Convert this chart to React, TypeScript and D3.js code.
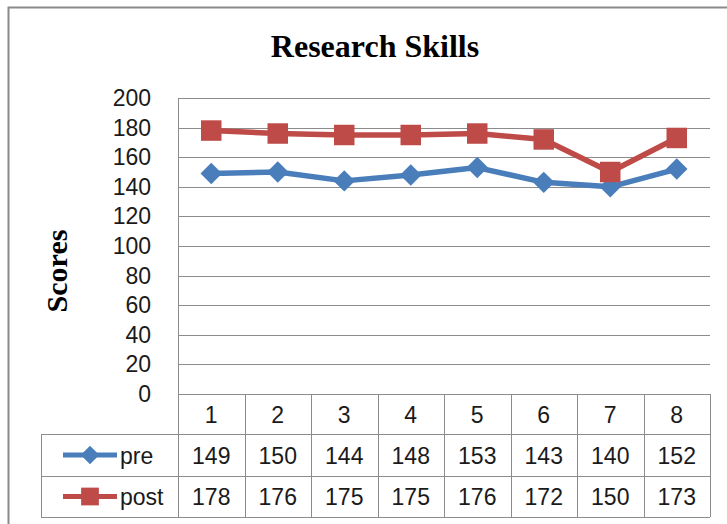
import { useEffect, useRef } from "react";
import * as d3 from "d3";

const categories = ["1", "2", "3", "4", "5", "6", "7", "8"];
const preScores = [149, 150, 144, 148, 153, 143, 140, 152];
const postScores = [178, 176, 175, 175, 176, 172, 150, 173];
const yTicks = [0, 20, 40, 60, 80, 100, 120, 140, 160, 180, 200];

const W = 727;
const H = 524;

// rotated square, like the Excel diamond marker
const diamond = {
  draw(ctx: any, size: number) {
    const r = Math.sqrt(size / 2);
    ctx.moveTo(0, -r);
    ctx.lineTo(r, 0);
    ctx.lineTo(0, r);
    ctx.lineTo(-r, 0);
    ctx.closePath();
  },
};

const App = () => {
  const ref = useRef<SVGSVGElement>(null);

  useEffect(() => {
    const svg = d3.select(ref.current);
    svg.selectAll("*").remove();

    const plot = { left: 178, right: 710, top: 98, bottom: 394 };
    const rows = [394, 434, 476, 517];
    const keyLeft = 41;
    const numFont = "Liberation Sans, Arial, sans-serif";
    const fs = 23;
    const gray = "#8c8c8c";

    // chart frame
    svg
      .append("rect")
      .attr("x", 8.5)
      .attr("y", 7.5)
      .attr("width", W + 20)
      .attr("height", H + 20)
      .attr("fill", "#fff")
      .attr("stroke", "#8a8a8a")
      .attr("stroke-width", 2);

    const x = d3
      .scaleBand()
      .domain(categories)
      .range([plot.left, plot.right]);
    const y = d3.scaleLinear().domain([0, 200]).range([plot.bottom, plot.top]);

    // gridlines
    svg
      .append("g")
      .selectAll("line")
      .data(yTicks)
      .enter()
      .append("line")
      .attr("x1", plot.left)
      .attr("x2", plot.right)
      .attr("y1", (d) => Math.round(y(d)) + 0.5)
      .attr("y2", (d) => Math.round(y(d)) + 0.5)
      .attr("stroke", gray)
      .attr("stroke-width", 1);

    // y tick labels
    svg
      .append("g")
      .selectAll("text")
      .data(yTicks)
      .enter()
      .append("text")
      .attr("x", 151)
      .attr("y", (d) => y(d) + 8)
      .attr("text-anchor", "end")
      .attr("font-family", numFont)
      .attr("font-size", fs)
      .attr("fill", "#1a1a1a")
      .text((d) => d);

    // table grid
    const colEdges = categories.map((c) => x(c)!).concat([plot.right]);
    svg
      .append("g")
      .selectAll("line")
      .data(colEdges)
      .enter()
      .append("line")
      .attr("x1", (d) => Math.round(d) + 0.5)
      .attr("x2", (d) => Math.round(d) + 0.5)
      .attr("y1", (d, i) => (i === 0 ? plot.top : rows[0]))
      .attr("y2", rows[3])
      .attr("stroke", gray);
    svg
      .append("g")
      .selectAll("line")
      .data(rows.slice(1))
      .enter()
      .append("line")
      .attr("x1", keyLeft)
      .attr("x2", plot.right)
      .attr("y1", (d) => d + 0.5)
      .attr("y2", (d) => d + 0.5)
      .attr("stroke", gray);
    svg
      .append("line")
      .attr("x1", keyLeft + 0.5)
      .attr("x2", keyLeft + 0.5)
      .attr("y1", rows[1])
      .attr("y2", rows[3])
      .attr("stroke", gray);

    const cx = (c: string) => x(c)! + x.bandwidth() / 2;

    // category row
    svg
      .append("g")
      .selectAll("text")
      .data(categories)
      .enter()
      .append("text")
      .attr("x", (d) => cx(d))
      .attr("y", (rows[0] + rows[1]) / 2 + 8.5)
      .attr("text-anchor", "middle")
      .attr("font-family", numFont)
      .attr("font-size", fs)
      .attr("fill", "#1a1a1a")
      .text((d) => d);

    const series = [
      { name: "pre", values: preScores, color: "#4a7ebb", shape: diamond, size: 230, row: 1 },
      { name: "post", values: postScores, color: "#be4b48", shape: d3.symbolSquare, size: 420, row: 2 },
    ];

    series.forEach((s) => {
      const line = d3
        .line<number>()
        .x((d, i) => cx(categories[i]))
        .y((d) => y(d));
      svg
        .append("path")
        .attr("d", line(s.values))
        .attr("fill", "none")
        .attr("stroke", s.color)
        .attr("stroke-width", 5.5)
        .attr("stroke-linejoin", "round");
      const sym = d3.symbol().type(s.shape).size(s.size);
      svg
        .append("g")
        .selectAll("path")
        .data(s.values)
        .enter()
        .append("path")
        .attr("d", sym()!)
        .attr("transform", (d, i) => `translate(${cx(categories[i])},${y(d)})`)
        .attr("fill", s.color);

      const rowMid = (rows[s.row] + rows[s.row + 1]) / 2;
      svg
        .append("g")
        .selectAll("text")
        .data(s.values)
        .enter()
        .append("text")
        .attr("x", (d, i) => cx(categories[i]))
        .attr("y", rowMid + 8.5)
        .attr("text-anchor", "middle")
        .attr("font-family", numFont)
        .attr("font-size", fs)
        .attr("fill", "#1a1a1a")
        .text((d) => d);

      // legend key
      svg
        .append("line")
        .attr("x1", 63)
        .attr("x2", 117)
        .attr("y1", rowMid)
        .attr("y2", rowMid)
        .attr("stroke", s.color)
        .attr("stroke-width", 5);
      svg
        .append("path")
        .attr("d", d3.symbol().type(s.shape).size(s.size * 0.75)()!)
        .attr("transform", `translate(90,${rowMid})`)
        .attr("fill", s.color);
      svg
        .append("text")
        .attr("x", 120)
        .attr("y", rowMid + 8.5)
        .attr("font-family", numFont)
        .attr("font-size", fs)
        .attr("fill", "#1a1a1a")
        .text(s.name);
    });

    // title
    svg
      .append("text")
      .attr("x", 375)
      .attr("y", 57)
      .attr("text-anchor", "middle")
      .attr("font-family", "Liberation Serif, Times New Roman, serif")
      .attr("font-weight", "bold")
      .attr("font-size", 32)
      .text("Research Skills");

    // y axis title
    svg
      .append("text")
      .attr("transform", "translate(67,271) rotate(-90)")
      .attr("text-anchor", "middle")
      .attr("font-family", "Liberation Serif, Times New Roman, serif")
      .attr("font-weight", "bold")
      .attr("font-size", 30)
      .text("Scores");
  }, []);

  return (
    <svg
      ref={ref}
      width={W}
      height={H}
      style={{ position: "absolute", left: 0, top: 0, background: "#fff" }}
    />
  );
};

export default App;
